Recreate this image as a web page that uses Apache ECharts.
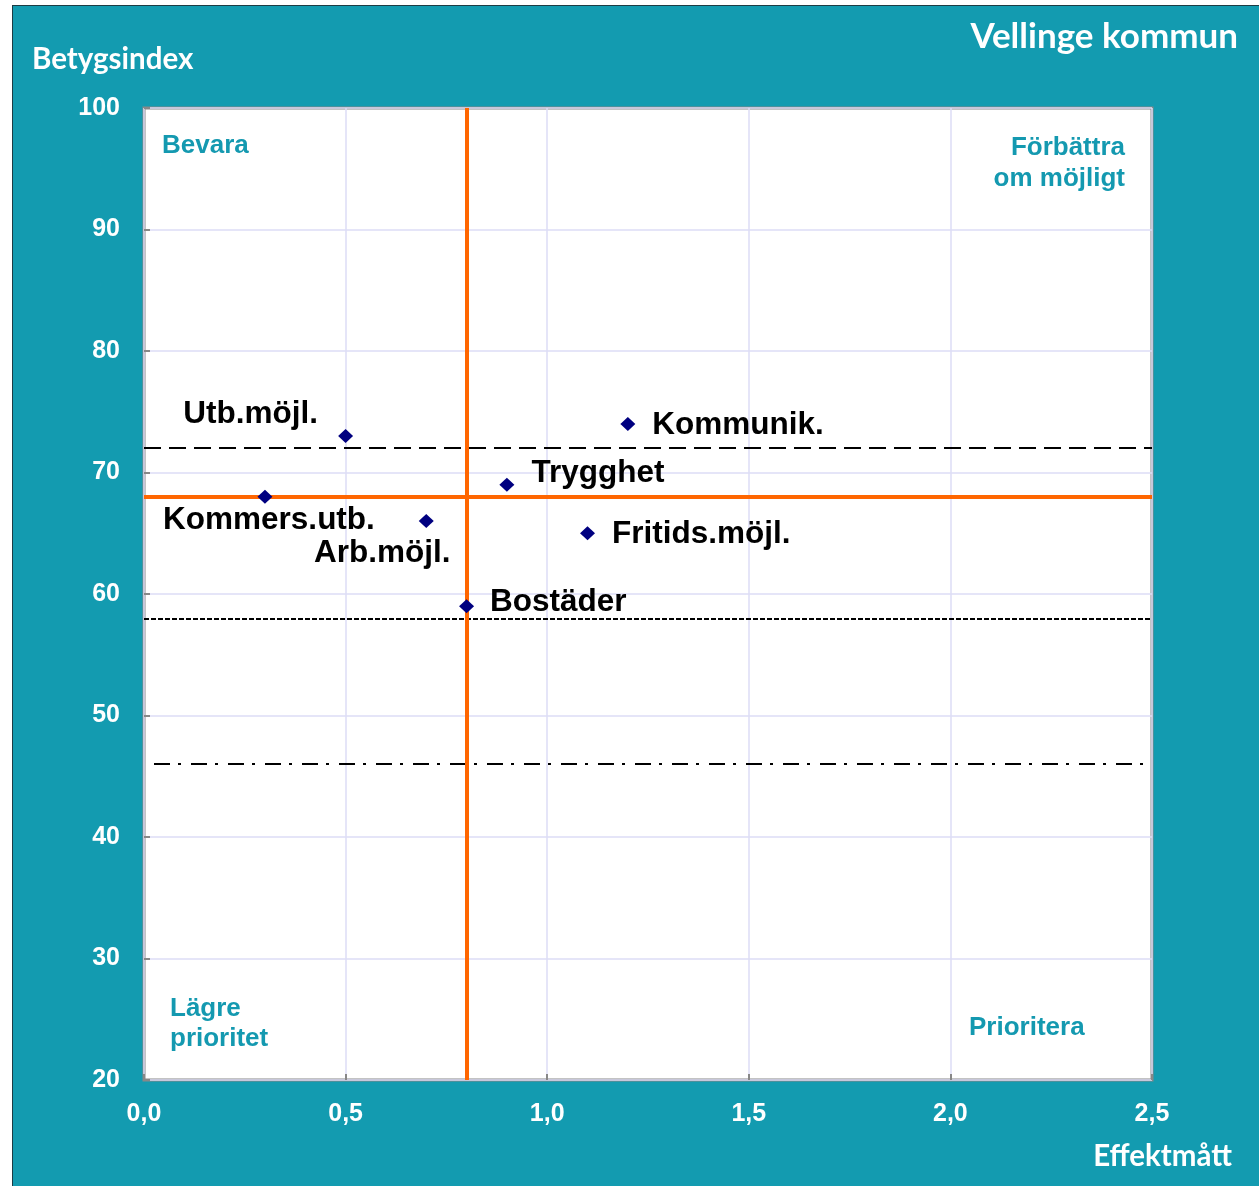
<!DOCTYPE html>
<html><head><meta charset="utf-8">
<script src="https://cdn.jsdelivr.net/npm/echarts@6/dist/echarts.min.js"></script>
<style>
html,body{margin:0;padding:0;background:#fff;width:1259px;height:1186px;overflow:hidden}
#panel{position:absolute;left:12px;top:5px;width:1259px;height:1200px;background:#139BB0;border-left:1px solid #1d3c44;border-top:1px solid #1d3c44}
#c{position:absolute;left:0;top:0;width:1259px;height:1186px}
</style></head>
<body><div id="panel"></div><div id="c"></div>
<script>
const names = ['Utb.möjl.','Kommers.utb.','Arb.möjl.','Bostäder','Trygghet','Fritids.möjl.','Kommunik.'];
const effekt = [0.5, 0.3, 0.7, 0.8, 0.9, 1.1, 1.2];
const betyg = [73, 68, 66, 59, 69, 65, 74];
const meanEffekt = 0.8;
const meanBetyg = 68;
const refUpper = 72;
const refLower = 58;
const refLow2 = 46;
const title = 'Vellinge kommun';
const yName = 'Betygsindex';
const xName = 'Effektmått';
const quadrants = ['Bevara', 'Förbättra', 'om möjligt', 'Lägre\nprioritet', 'Prioritera'];

const labelPlacement = {
  'Utb.möjl.': {position:'left', distance:20, offset:[0,-22]},
  'Kommers.utb.': {position:'inside', offset:[4,24]},
  'Arb.möjl.': {position:'inside', offset:[-44,32]},
  'Bostäder': {position:'right', distance:16, offset:[0,-4]},
  'Trygghet': {position:'right', distance:17, offset:[0,-11]},
  'Fritids.möjl.': {position:'right', distance:17, offset:[0,1]},
  'Kommunik.': {position:'right', distance:17, offset:[0,1]}
};

const chart = echarts.init(document.getElementById('c'), null, {renderer:'canvas'});
const fmt = v => v.toFixed(1).replace('.', ',');
const lblFont = {color:'#000000', fontFamily:'"Liberation Sans", Arial, sans-serif', fontWeight:'bold', fontSize:31.5};

const data = names.map((n, i) => ({
  name: n,
  value: [effekt[i], betyg[i]],
  label: Object.assign({show:true, formatter:'{b}'}, lblFont, labelPlacement[n])
}));

const quadStyle = {fill:'#1499B0', fontFamily:'"Liberation Sans", Arial, sans-serif', fontWeight:'bold', fontSize:26};
const whiteTitle = {fill:'#fff', fontFamily:'Lato, "Open Sans", sans-serif', fontWeight:'bold'};

chart.setOption({
  animation:false,
  backgroundColor:'transparent',
  grid:{left:144, top:108, right:107, bottom:106, show:true, backgroundColor:'#fff', borderColor:'#888', borderWidth:3},
  xAxis:{
    type:'value', min:0, max:2.5, interval:0.5,
    axisLine:{show:false},
    axisTick:{show:true, inside:true, length:6, lineStyle:{color:'#888', width:2}},
    splitLine:{show:true, lineStyle:{color:'#DCDCF6', width:1.5}},
    axisLabel:{formatter:fmt, color:'#fff', fontFamily:'"Liberation Sans", Arial, sans-serif', fontWeight:'bold', fontSize:25, margin:22}
  },
  yAxis:{
    type:'value', min:20, max:100, interval:10,
    axisLine:{show:false},
    axisTick:{show:true, inside:true, length:6, lineStyle:{color:'#888', width:2}},
    splitLine:{show:true, lineStyle:{color:'#DCDCF6', width:1.5}},
    axisLabel:{color:'#fff', fontFamily:'"Liberation Sans", Arial, sans-serif', fontWeight:'bold', fontSize:25, margin:24}
  },
  series:[{
    type:'scatter',
    symbol:'diamond',
    symbolSize:[15,14],
    itemStyle:{color:'#000080', opacity:1},
    data:data,
    z:5,
    markLine:{
      silent:true, symbol:'none', animation:false,
      label:{show:false},
      data:[
        {yAxis:refUpper, lineStyle:{color:'#000', width:2, type:[17,8]}},
        {yAxis:refLower, lineStyle:{color:'#000', width:2, type:[5,2]}},
        {yAxis:refLow2, lineStyle:{color:'#000', width:2, type:[16,8,3,10], dashOffset:27}},
        {yAxis:meanBetyg, lineStyle:{color:'#FF6600', width:4, type:'solid'}},
        {xAxis:meanEffekt, lineStyle:{color:'#FF6600', width:4, type:'solid'}}
      ]
    }
  }],
  graphic:[
    {type:'text', right:21, top:19, style:Object.assign({text:title, fontSize:35}, whiteTitle)},
    {type:'text', left:32, top:44, style:Object.assign({text:yName, fontSize:29.5}, whiteTitle)},
    {type:'text', right:27, top:1141, style:Object.assign({text:xName, fontSize:29.5}, whiteTitle)},
    {type:'text', left:162, top:133, style:Object.assign({text:quadrants[0]}, quadStyle)},
    {type:'text', right:134, top:135, style:Object.assign({text:quadrants[1]}, quadStyle)},
    {type:'text', right:134, top:166, style:Object.assign({text:quadrants[2]}, quadStyle)},
    {type:'text', left:170, top:994, style:Object.assign({text:quadrants[3], lineHeight:30}, quadStyle)},
    {type:'text', left:969, top:1015, style:Object.assign({text:quadrants[4]}, quadStyle)}
  ]
});
</script>
</body></html>
